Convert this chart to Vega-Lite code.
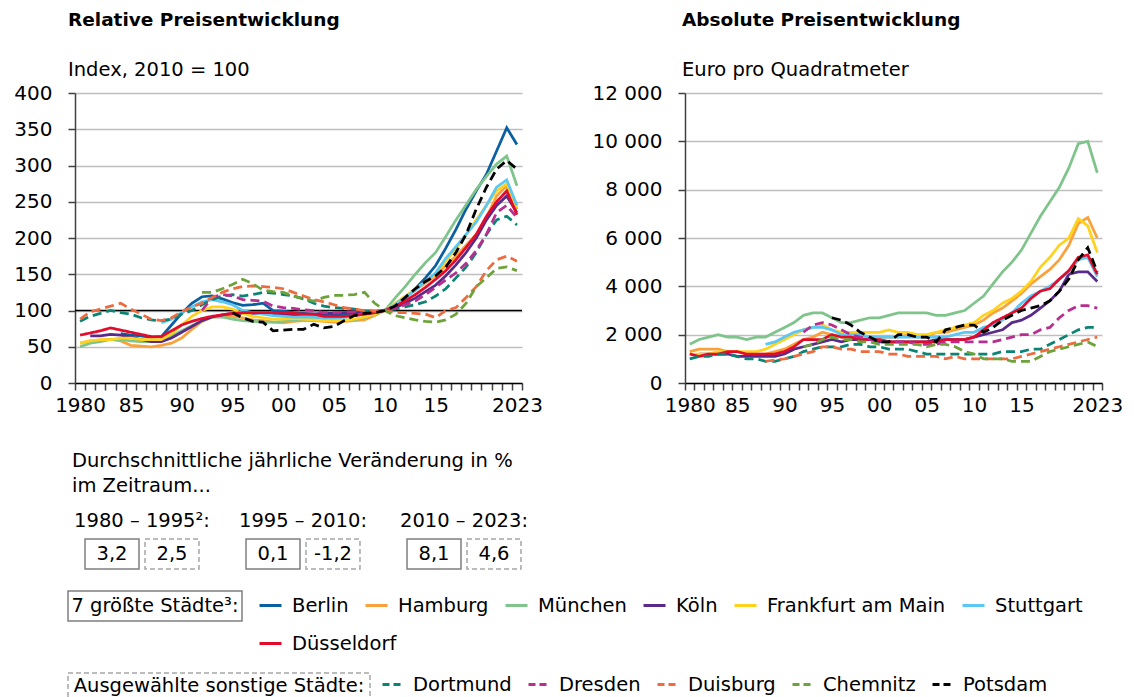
{
"$schema": "https://vega.github.io/schema/vega-lite/v6.json",
"padding": {"left": 13, "top": 11, "right": 5, "bottom": 0},
"config": {
  "font": "DejaVu Sans",
  "view": {"stroke": null},
  "locale": {"number": {"decimal": ",", "thousands": " ", "grouping": [3], "currency": ["", " €"], "minus": "-"}},
  "axis": {"labelFont": "DejaVu Sans", "labelColor": "black", "labelFontSize": 20},
  "title": {"font": "DejaVu Sans", "color": "black", "subtitleFont": "DejaVu Sans", "subtitleColor": "black", "anchor": "start", "frame": "group"},
  "text": {"font": "DejaVu Sans", "color": "black", "fontSize": 19.5},
  "legend": {"labelFont": "DejaVu Sans", "labelColor": "black", "labelFontSize": 19.5}
},
"datasets": {"preise": [
{"stadt":"Berlin","jahr":1984,"index":68},{"stadt":"Berlin","jahr":1985,"index":66},{"stadt":"Berlin","jahr":1986,"index":65},{"stadt":"Berlin","jahr":1987,"index":63},{"stadt":"Berlin","jahr":1988,"index":64},{"stadt":"Berlin","jahr":1989,"index":80},{"stadt":"Berlin","jahr":1990,"index":96},{"stadt":"Berlin","jahr":1991,"index":110},{"stadt":"Berlin","jahr":1992,"index":119},{"stadt":"Berlin","jahr":1993,"index":120},{"stadt":"Berlin","jahr":1994,"index":116},{"stadt":"Berlin","jahr":1995,"index":111},{"stadt":"Berlin","jahr":1996,"index":107},{"stadt":"Berlin","jahr":1997,"index":108},{"stadt":"Berlin","jahr":1998,"index":110},{"stadt":"Berlin","jahr":1999,"index":100},{"stadt":"Berlin","jahr":2000,"index":99},{"stadt":"Berlin","jahr":2001,"index":97},{"stadt":"Berlin","jahr":2002,"index":96},{"stadt":"Berlin","jahr":2003,"index":95},{"stadt":"Berlin","jahr":2004,"index":95},{"stadt":"Berlin","jahr":2005,"index":95},{"stadt":"Berlin","jahr":2006,"index":95},{"stadt":"Berlin","jahr":2007,"index":96},{"stadt":"Berlin","jahr":2008,"index":97},{"stadt":"Berlin","jahr":2009,"index":98},{"stadt":"Berlin","jahr":2010,"index":100},{"stadt":"Berlin","jahr":2011,"index":107},{"stadt":"Berlin","jahr":2012,"index":117},{"stadt":"Berlin","jahr":2013,"index":130},{"stadt":"Berlin","jahr":2014,"index":145},{"stadt":"Berlin","jahr":2015,"index":162},{"stadt":"Berlin","jahr":2016,"index":186},{"stadt":"Berlin","jahr":2017,"index":212},{"stadt":"Berlin","jahr":2018,"index":240},{"stadt":"Berlin","jahr":2019,"index":265},{"stadt":"Berlin","jahr":2020,"index":288},{"stadt":"Berlin","jahr":2021,"index":320},{"stadt":"Berlin","jahr":2022,"index":352},{"stadt":"Berlin","jahr":2023,"index":329},
{"stadt":"Hamburg","jahr":1980,"index":55,"euro":1300},{"stadt":"Hamburg","jahr":1981,"index":58,"euro":1400},{"stadt":"Hamburg","jahr":1982,"index":59,"euro":1400},{"stadt":"Hamburg","jahr":1983,"index":60,"euro":1400},{"stadt":"Hamburg","jahr":1984,"index":58,"euro":1300},{"stadt":"Hamburg","jahr":1985,"index":52,"euro":1300},{"stadt":"Hamburg","jahr":1986,"index":51,"euro":1200},{"stadt":"Hamburg","jahr":1987,"index":50,"euro":1200},{"stadt":"Hamburg","jahr":1988,"index":52,"euro":1200},{"stadt":"Hamburg","jahr":1989,"index":55,"euro":1300},{"stadt":"Hamburg","jahr":1990,"index":62,"euro":1400},{"stadt":"Hamburg","jahr":1991,"index":74,"euro":1600},{"stadt":"Hamburg","jahr":1992,"index":85,"euro":1800},{"stadt":"Hamburg","jahr":1993,"index":91,"euro":1900},{"stadt":"Hamburg","jahr":1994,"index":93,"euro":2100},{"stadt":"Hamburg","jahr":1995,"index":92,"euro":2000},{"stadt":"Hamburg","jahr":1996,"index":90,"euro":1900},{"stadt":"Hamburg","jahr":1997,"index":87,"euro":1900},{"stadt":"Hamburg","jahr":1998,"index":86,"euro":1900},{"stadt":"Hamburg","jahr":1999,"index":84,"euro":1900},{"stadt":"Hamburg","jahr":2000,"index":83,"euro":1900},{"stadt":"Hamburg","jahr":2001,"index":85,"euro":1900},{"stadt":"Hamburg","jahr":2002,"index":86,"euro":1900},{"stadt":"Hamburg","jahr":2003,"index":86,"euro":2000},{"stadt":"Hamburg","jahr":2004,"index":85,"euro":1900},{"stadt":"Hamburg","jahr":2005,"index":84,"euro":1900},{"stadt":"Hamburg","jahr":2006,"index":85,"euro":2100},{"stadt":"Hamburg","jahr":2007,"index":86,"euro":2100},{"stadt":"Hamburg","jahr":2008,"index":87,"euro":2200},{"stadt":"Hamburg","jahr":2009,"index":93,"euro":2300},{"stadt":"Hamburg","jahr":2010,"index":100,"euro":2400},{"stadt":"Hamburg","jahr":2011,"index":108,"euro":2600},{"stadt":"Hamburg","jahr":2012,"index":118,"euro":2900},{"stadt":"Hamburg","jahr":2013,"index":128,"euro":3100},{"stadt":"Hamburg","jahr":2014,"index":138,"euro":3400},{"stadt":"Hamburg","jahr":2015,"index":148,"euro":3700},{"stadt":"Hamburg","jahr":2016,"index":162,"euro":4100},{"stadt":"Hamburg","jahr":2017,"index":175,"euro":4400},{"stadt":"Hamburg","jahr":2018,"index":190,"euro":4700},{"stadt":"Hamburg","jahr":2019,"index":205,"euro":5100},{"stadt":"Hamburg","jahr":2020,"index":228,"euro":5700},{"stadt":"Hamburg","jahr":2021,"index":258,"euro":6600},{"stadt":"Hamburg","jahr":2022,"index":272,"euro":6850},{"stadt":"Hamburg","jahr":2023,"index":240,"euro":6000},
{"stadt":"München","jahr":1980,"index":50,"euro":1600},{"stadt":"München","jahr":1981,"index":55,"euro":1800},{"stadt":"München","jahr":1982,"index":57,"euro":1900},{"stadt":"München","jahr":1983,"index":60,"euro":2000},{"stadt":"München","jahr":1984,"index":60,"euro":1900},{"stadt":"München","jahr":1985,"index":58,"euro":1900},{"stadt":"München","jahr":1986,"index":57,"euro":1800},{"stadt":"München","jahr":1987,"index":57,"euro":1900},{"stadt":"München","jahr":1988,"index":58,"euro":1900},{"stadt":"München","jahr":1989,"index":65,"euro":2100},{"stadt":"München","jahr":1990,"index":72,"euro":2300},{"stadt":"München","jahr":1991,"index":79,"euro":2500},{"stadt":"München","jahr":1992,"index":86,"euro":2800},{"stadt":"München","jahr":1993,"index":91,"euro":2900},{"stadt":"München","jahr":1994,"index":91,"euro":2900},{"stadt":"München","jahr":1995,"index":88,"euro":2700},{"stadt":"München","jahr":1996,"index":86,"euro":2500},{"stadt":"München","jahr":1997,"index":85,"euro":2500},{"stadt":"München","jahr":1998,"index":84,"euro":2600},{"stadt":"München","jahr":1999,"index":84,"euro":2700},{"stadt":"München","jahr":2000,"index":85,"euro":2700},{"stadt":"München","jahr":2001,"index":87,"euro":2800},{"stadt":"München","jahr":2002,"index":88,"euro":2900},{"stadt":"München","jahr":2003,"index":88,"euro":2900},{"stadt":"München","jahr":2004,"index":88,"euro":2900},{"stadt":"München","jahr":2005,"index":88,"euro":2900},{"stadt":"München","jahr":2006,"index":87,"euro":2800},{"stadt":"München","jahr":2007,"index":87,"euro":2800},{"stadt":"München","jahr":2008,"index":90,"euro":2900},{"stadt":"München","jahr":2009,"index":95,"euro":3000},{"stadt":"München","jahr":2010,"index":100,"euro":3300},{"stadt":"München","jahr":2011,"index":117,"euro":3600},{"stadt":"München","jahr":2012,"index":133,"euro":4100},{"stadt":"München","jahr":2013,"index":150,"euro":4600},{"stadt":"München","jahr":2014,"index":166,"euro":5000},{"stadt":"München","jahr":2015,"index":180,"euro":5500},{"stadt":"München","jahr":2016,"index":202,"euro":6200},{"stadt":"München","jahr":2017,"index":225,"euro":6900},{"stadt":"München","jahr":2018,"index":246,"euro":7500},{"stadt":"München","jahr":2019,"index":267,"euro":8100},{"stadt":"München","jahr":2020,"index":285,"euro":8900},{"stadt":"München","jahr":2021,"index":302,"euro":9900},{"stadt":"München","jahr":2022,"index":313,"euro":10000},{"stadt":"München","jahr":2023,"index":272,"euro":8700},
{"stadt":"Köln","jahr":1981,"index":65,"euro":1200},{"stadt":"Köln","jahr":1982,"index":65,"euro":1200},{"stadt":"Köln","jahr":1983,"index":67,"euro":1200},{"stadt":"Köln","jahr":1984,"index":66,"euro":1200},{"stadt":"Köln","jahr":1985,"index":63,"euro":1100},{"stadt":"Köln","jahr":1986,"index":60,"euro":1100},{"stadt":"Köln","jahr":1987,"index":57,"euro":1100},{"stadt":"Köln","jahr":1988,"index":57,"euro":1100},{"stadt":"Köln","jahr":1989,"index":62,"euro":1100},{"stadt":"Köln","jahr":1990,"index":70,"euro":1200},{"stadt":"Köln","jahr":1991,"index":78,"euro":1400},{"stadt":"Köln","jahr":1992,"index":86,"euro":1500},{"stadt":"Köln","jahr":1993,"index":91,"euro":1600},{"stadt":"Köln","jahr":1994,"index":94,"euro":1700},{"stadt":"Köln","jahr":1995,"index":96,"euro":1800},{"stadt":"Köln","jahr":1996,"index":96,"euro":1700},{"stadt":"Köln","jahr":1997,"index":96,"euro":1800},{"stadt":"Köln","jahr":1998,"index":96,"euro":1800},{"stadt":"Köln","jahr":1999,"index":95,"euro":1800},{"stadt":"Köln","jahr":2000,"index":95,"euro":1700},{"stadt":"Köln","jahr":2001,"index":94,"euro":1700},{"stadt":"Köln","jahr":2002,"index":95,"euro":1700},{"stadt":"Köln","jahr":2003,"index":95,"euro":1700},{"stadt":"Köln","jahr":2004,"index":96,"euro":1700},{"stadt":"Köln","jahr":2005,"index":96,"euro":1700},{"stadt":"Köln","jahr":2006,"index":97,"euro":1800},{"stadt":"Köln","jahr":2007,"index":97,"euro":1800},{"stadt":"Köln","jahr":2008,"index":97,"euro":1800},{"stadt":"Köln","jahr":2009,"index":98,"euro":1800},{"stadt":"Köln","jahr":2010,"index":100,"euro":1900},{"stadt":"Köln","jahr":2011,"index":104,"euro":2000},{"stadt":"Köln","jahr":2012,"index":110,"euro":2100},{"stadt":"Köln","jahr":2013,"index":117,"euro":2200},{"stadt":"Köln","jahr":2014,"index":126,"euro":2500},{"stadt":"Köln","jahr":2015,"index":135,"euro":2600},{"stadt":"Köln","jahr":2016,"index":148,"euro":2800},{"stadt":"Köln","jahr":2017,"index":163,"euro":3100},{"stadt":"Köln","jahr":2018,"index":180,"euro":3400},{"stadt":"Köln","jahr":2019,"index":200,"euro":3800},{"stadt":"Köln","jahr":2020,"index":225,"euro":4500},{"stadt":"Köln","jahr":2021,"index":245,"euro":4600},{"stadt":"Köln","jahr":2022,"index":258,"euro":4600},{"stadt":"Köln","jahr":2023,"index":235,"euro":4200},
{"stadt":"Frankfurt am Main","jahr":1980,"index":55,"euro":1200},{"stadt":"Frankfurt am Main","jahr":1981,"index":58,"euro":1200},{"stadt":"Frankfurt am Main","jahr":1982,"index":60,"euro":1200},{"stadt":"Frankfurt am Main","jahr":1983,"index":60,"euro":1300},{"stadt":"Frankfurt am Main","jahr":1984,"index":62,"euro":1300},{"stadt":"Frankfurt am Main","jahr":1985,"index":62,"euro":1300},{"stadt":"Frankfurt am Main","jahr":1986,"index":60,"euro":1300},{"stadt":"Frankfurt am Main","jahr":1987,"index":60,"euro":1300},{"stadt":"Frankfurt am Main","jahr":1988,"index":60,"euro":1400},{"stadt":"Frankfurt am Main","jahr":1989,"index":68,"euro":1600},{"stadt":"Frankfurt am Main","jahr":1990,"index":80,"euro":1800},{"stadt":"Frankfurt am Main","jahr":1991,"index":92,"euro":2000},{"stadt":"Frankfurt am Main","jahr":1992,"index":100,"euro":2200},{"stadt":"Frankfurt am Main","jahr":1993,"index":105,"euro":2300},{"stadt":"Frankfurt am Main","jahr":1994,"index":105,"euro":2400},{"stadt":"Frankfurt am Main","jahr":1995,"index":102,"euro":2200},{"stadt":"Frankfurt am Main","jahr":1996,"index":96,"euro":2100},{"stadt":"Frankfurt am Main","jahr":1997,"index":92,"euro":2100},{"stadt":"Frankfurt am Main","jahr":1998,"index":90,"euro":2100},{"stadt":"Frankfurt am Main","jahr":1999,"index":88,"euro":2100},{"stadt":"Frankfurt am Main","jahr":2000,"index":88,"euro":2100},{"stadt":"Frankfurt am Main","jahr":2001,"index":89,"euro":2200},{"stadt":"Frankfurt am Main","jahr":2002,"index":88,"euro":2100},{"stadt":"Frankfurt am Main","jahr":2003,"index":87,"euro":2100},{"stadt":"Frankfurt am Main","jahr":2004,"index":86,"euro":2000},{"stadt":"Frankfurt am Main","jahr":2005,"index":86,"euro":2000},{"stadt":"Frankfurt am Main","jahr":2006,"index":86,"euro":2100},{"stadt":"Frankfurt am Main","jahr":2007,"index":88,"euro":2200},{"stadt":"Frankfurt am Main","jahr":2008,"index":91,"euro":2300},{"stadt":"Frankfurt am Main","jahr":2009,"index":95,"euro":2400},{"stadt":"Frankfurt am Main","jahr":2010,"index":100,"euro":2500},{"stadt":"Frankfurt am Main","jahr":2011,"index":110,"euro":2800},{"stadt":"Frankfurt am Main","jahr":2012,"index":120,"euro":3000},{"stadt":"Frankfurt am Main","jahr":2013,"index":130,"euro":3300},{"stadt":"Frankfurt am Main","jahr":2014,"index":140,"euro":3500},{"stadt":"Frankfurt am Main","jahr":2015,"index":150,"euro":3800},{"stadt":"Frankfurt am Main","jahr":2016,"index":168,"euro":4200},{"stadt":"Frankfurt am Main","jahr":2017,"index":185,"euro":4800},{"stadt":"Frankfurt am Main","jahr":2018,"index":205,"euro":5200},{"stadt":"Frankfurt am Main","jahr":2019,"index":225,"euro":5700},{"stadt":"Frankfurt am Main","jahr":2020,"index":245,"euro":6000},{"stadt":"Frankfurt am Main","jahr":2021,"index":265,"euro":6800},{"stadt":"Frankfurt am Main","jahr":2022,"index":275,"euro":6500},{"stadt":"Frankfurt am Main","jahr":2023,"index":242,"euro":5400},
{"stadt":"Stuttgart","jahr":1988,"index":83,"euro":1600},{"stadt":"Stuttgart","jahr":1989,"index":88,"euro":1700},{"stadt":"Stuttgart","jahr":1990,"index":97,"euro":1900},{"stadt":"Stuttgart","jahr":1991,"index":105,"euro":2100},{"stadt":"Stuttgart","jahr":1992,"index":112,"euro":2200},{"stadt":"Stuttgart","jahr":1993,"index":115,"euro":2300},{"stadt":"Stuttgart","jahr":1994,"index":112,"euro":2300},{"stadt":"Stuttgart","jahr":1995,"index":108,"euro":2200},{"stadt":"Stuttgart","jahr":1996,"index":100,"euro":2000},{"stadt":"Stuttgart","jahr":1997,"index":97,"euro":2000},{"stadt":"Stuttgart","jahr":1998,"index":95,"euro":2000},{"stadt":"Stuttgart","jahr":1999,"index":93,"euro":1900},{"stadt":"Stuttgart","jahr":2000,"index":92,"euro":1900},{"stadt":"Stuttgart","jahr":2001,"index":91,"euro":1900},{"stadt":"Stuttgart","jahr":2002,"index":91,"euro":1900},{"stadt":"Stuttgart","jahr":2003,"index":91,"euro":1900},{"stadt":"Stuttgart","jahr":2004,"index":90,"euro":1900},{"stadt":"Stuttgart","jahr":2005,"index":90,"euro":1900},{"stadt":"Stuttgart","jahr":2006,"index":91,"euro":1900},{"stadt":"Stuttgart","jahr":2007,"index":93,"euro":1900},{"stadt":"Stuttgart","jahr":2008,"index":95,"euro":2000},{"stadt":"Stuttgart","jahr":2009,"index":97,"euro":2100},{"stadt":"Stuttgart","jahr":2010,"index":100,"euro":2100},{"stadt":"Stuttgart","jahr":2011,"index":108,"euro":2300},{"stadt":"Stuttgart","jahr":2012,"index":118,"euro":2400},{"stadt":"Stuttgart","jahr":2013,"index":128,"euro":2600},{"stadt":"Stuttgart","jahr":2014,"index":140,"euro":2900},{"stadt":"Stuttgart","jahr":2015,"index":152,"euro":3300},{"stadt":"Stuttgart","jahr":2016,"index":172,"euro":3600},{"stadt":"Stuttgart","jahr":2017,"index":188,"euro":3800},{"stadt":"Stuttgart","jahr":2018,"index":205,"euro":4000},{"stadt":"Stuttgart","jahr":2019,"index":222,"euro":4300},{"stadt":"Stuttgart","jahr":2020,"index":245,"euro":4600},{"stadt":"Stuttgart","jahr":2021,"index":270,"euro":5100},{"stadt":"Stuttgart","jahr":2022,"index":280,"euro":5200},{"stadt":"Stuttgart","jahr":2023,"index":245,"euro":4400},
{"stadt":"Düsseldorf","jahr":1980,"index":66,"euro":1200},{"stadt":"Düsseldorf","jahr":1981,"index":69,"euro":1100},{"stadt":"Düsseldorf","jahr":1982,"index":72,"euro":1200},{"stadt":"Düsseldorf","jahr":1983,"index":76,"euro":1200},{"stadt":"Düsseldorf","jahr":1984,"index":73,"euro":1300},{"stadt":"Düsseldorf","jahr":1985,"index":70,"euro":1300},{"stadt":"Düsseldorf","jahr":1986,"index":67,"euro":1200},{"stadt":"Düsseldorf","jahr":1987,"index":64,"euro":1200},{"stadt":"Düsseldorf","jahr":1988,"index":64,"euro":1200},{"stadt":"Düsseldorf","jahr":1989,"index":72,"euro":1200},{"stadt":"Düsseldorf","jahr":1990,"index":80,"euro":1300},{"stadt":"Düsseldorf","jahr":1991,"index":85,"euro":1500},{"stadt":"Düsseldorf","jahr":1992,"index":89,"euro":1800},{"stadt":"Düsseldorf","jahr":1993,"index":92,"euro":1800},{"stadt":"Düsseldorf","jahr":1994,"index":94,"euro":1800},{"stadt":"Düsseldorf","jahr":1995,"index":96,"euro":2000},{"stadt":"Düsseldorf","jahr":1996,"index":97,"euro":1900},{"stadt":"Düsseldorf","jahr":1997,"index":97,"euro":1900},{"stadt":"Düsseldorf","jahr":1998,"index":97,"euro":1800},{"stadt":"Düsseldorf","jahr":1999,"index":97,"euro":1800},{"stadt":"Düsseldorf","jahr":2000,"index":97,"euro":1800},{"stadt":"Düsseldorf","jahr":2001,"index":96,"euro":1700},{"stadt":"Düsseldorf","jahr":2002,"index":95,"euro":1700},{"stadt":"Düsseldorf","jahr":2003,"index":95,"euro":1700},{"stadt":"Düsseldorf","jahr":2004,"index":92,"euro":1700},{"stadt":"Düsseldorf","jahr":2005,"index":92,"euro":1700},{"stadt":"Düsseldorf","jahr":2006,"index":92,"euro":1700},{"stadt":"Düsseldorf","jahr":2007,"index":93,"euro":1800},{"stadt":"Düsseldorf","jahr":2008,"index":95,"euro":1800},{"stadt":"Düsseldorf","jahr":2009,"index":97,"euro":1800},{"stadt":"Düsseldorf","jahr":2010,"index":100,"euro":1900},{"stadt":"Düsseldorf","jahr":2011,"index":106,"euro":2200},{"stadt":"Düsseldorf","jahr":2012,"index":113,"euro":2500},{"stadt":"Düsseldorf","jahr":2013,"index":122,"euro":2700},{"stadt":"Düsseldorf","jahr":2014,"index":132,"euro":2900},{"stadt":"Düsseldorf","jahr":2015,"index":143,"euro":3100},{"stadt":"Düsseldorf","jahr":2016,"index":155,"euro":3500},{"stadt":"Düsseldorf","jahr":2017,"index":170,"euro":3800},{"stadt":"Düsseldorf","jahr":2018,"index":187,"euro":3900},{"stadt":"Düsseldorf","jahr":2019,"index":205,"euro":4300},{"stadt":"Düsseldorf","jahr":2020,"index":230,"euro":4650},{"stadt":"Düsseldorf","jahr":2021,"index":250,"euro":5200},{"stadt":"Düsseldorf","jahr":2022,"index":265,"euro":5300},{"stadt":"Düsseldorf","jahr":2023,"index":232,"euro":4500},
{"stadt":"Dortmund","jahr":1980,"index":85,"euro":1000},{"stadt":"Dortmund","jahr":1981,"index":92,"euro":1100},{"stadt":"Dortmund","jahr":1982,"index":96,"euro":1100},{"stadt":"Dortmund","jahr":1983,"index":100,"euro":1200},{"stadt":"Dortmund","jahr":1984,"index":97,"euro":1200},{"stadt":"Dortmund","jahr":1985,"index":95,"euro":1100},{"stadt":"Dortmund","jahr":1986,"index":90,"euro":1000},{"stadt":"Dortmund","jahr":1987,"index":87,"euro":1000},{"stadt":"Dortmund","jahr":1988,"index":86,"euro":900},{"stadt":"Dortmund","jahr":1989,"index":88,"euro":900},{"stadt":"Dortmund","jahr":1990,"index":95,"euro":1000},{"stadt":"Dortmund","jahr":1991,"index":100,"euro":1100},{"stadt":"Dortmund","jahr":1992,"index":108,"euro":1300},{"stadt":"Dortmund","jahr":1993,"index":115,"euro":1400},{"stadt":"Dortmund","jahr":1994,"index":120,"euro":1500},{"stadt":"Dortmund","jahr":1995,"index":122,"euro":1500},{"stadt":"Dortmund","jahr":1996,"index":120,"euro":1500},{"stadt":"Dortmund","jahr":1997,"index":122,"euro":1600},{"stadt":"Dortmund","jahr":1998,"index":125,"euro":1600},{"stadt":"Dortmund","jahr":1999,"index":124,"euro":1500},{"stadt":"Dortmund","jahr":2000,"index":122,"euro":1500},{"stadt":"Dortmund","jahr":2001,"index":120,"euro":1400},{"stadt":"Dortmund","jahr":2002,"index":116,"euro":1400},{"stadt":"Dortmund","jahr":2003,"index":110,"euro":1400},{"stadt":"Dortmund","jahr":2004,"index":106,"euro":1300},{"stadt":"Dortmund","jahr":2005,"index":104,"euro":1200},{"stadt":"Dortmund","jahr":2006,"index":103,"euro":1200},{"stadt":"Dortmund","jahr":2007,"index":102,"euro":1200},{"stadt":"Dortmund","jahr":2008,"index":100,"euro":1200},{"stadt":"Dortmund","jahr":2009,"index":99,"euro":1200},{"stadt":"Dortmund","jahr":2010,"index":100,"euro":1200},{"stadt":"Dortmund","jahr":2011,"index":102,"euro":1200},{"stadt":"Dortmund","jahr":2012,"index":105,"euro":1200},{"stadt":"Dortmund","jahr":2013,"index":108,"euro":1300},{"stadt":"Dortmund","jahr":2014,"index":112,"euro":1300},{"stadt":"Dortmund","jahr":2015,"index":120,"euro":1300},{"stadt":"Dortmund","jahr":2016,"index":130,"euro":1400},{"stadt":"Dortmund","jahr":2017,"index":145,"euro":1400},{"stadt":"Dortmund","jahr":2018,"index":160,"euro":1600},{"stadt":"Dortmund","jahr":2019,"index":180,"euro":1800},{"stadt":"Dortmund","jahr":2020,"index":205,"euro":2000},{"stadt":"Dortmund","jahr":2021,"index":225,"euro":2200},{"stadt":"Dortmund","jahr":2022,"index":230,"euro":2300},{"stadt":"Dortmund","jahr":2023,"index":218,"euro":2300},
{"stadt":"Dresden","jahr":1992,"index":100,"euro":2100},{"stadt":"Dresden","jahr":1993,"index":118,"euro":2400},{"stadt":"Dresden","jahr":1994,"index":122,"euro":2500},{"stadt":"Dresden","jahr":1995,"index":120,"euro":2400},{"stadt":"Dresden","jahr":1996,"index":115,"euro":2200},{"stadt":"Dresden","jahr":1997,"index":114,"euro":2000},{"stadt":"Dresden","jahr":1998,"index":113,"euro":1900},{"stadt":"Dresden","jahr":1999,"index":106,"euro":1800},{"stadt":"Dresden","jahr":2000,"index":104,"euro":1800},{"stadt":"Dresden","jahr":2001,"index":103,"euro":1700},{"stadt":"Dresden","jahr":2002,"index":101,"euro":1700},{"stadt":"Dresden","jahr":2003,"index":100,"euro":1700},{"stadt":"Dresden","jahr":2004,"index":97,"euro":1600},{"stadt":"Dresden","jahr":2005,"index":97,"euro":1600},{"stadt":"Dresden","jahr":2006,"index":98,"euro":1600},{"stadt":"Dresden","jahr":2007,"index":98,"euro":1700},{"stadt":"Dresden","jahr":2008,"index":97,"euro":1700},{"stadt":"Dresden","jahr":2009,"index":98,"euro":1700},{"stadt":"Dresden","jahr":2010,"index":100,"euro":1700},{"stadt":"Dresden","jahr":2011,"index":103,"euro":1700},{"stadt":"Dresden","jahr":2012,"index":108,"euro":1700},{"stadt":"Dresden","jahr":2013,"index":113,"euro":1800},{"stadt":"Dresden","jahr":2014,"index":122,"euro":1900},{"stadt":"Dresden","jahr":2015,"index":132,"euro":2000},{"stadt":"Dresden","jahr":2016,"index":142,"euro":2000},{"stadt":"Dresden","jahr":2017,"index":152,"euro":2200},{"stadt":"Dresden","jahr":2018,"index":165,"euro":2300},{"stadt":"Dresden","jahr":2019,"index":183,"euro":2700},{"stadt":"Dresden","jahr":2020,"index":205,"euro":3000},{"stadt":"Dresden","jahr":2021,"index":235,"euro":3200},{"stadt":"Dresden","jahr":2022,"index":245,"euro":3200},{"stadt":"Dresden","jahr":2023,"index":228,"euro":3100},
{"stadt":"Duisburg","jahr":1980,"index":88},{"stadt":"Duisburg","jahr":1981,"index":98},{"stadt":"Duisburg","jahr":1982,"index":102},{"stadt":"Duisburg","jahr":1983,"index":106},{"stadt":"Duisburg","jahr":1984,"index":110},{"stadt":"Duisburg","jahr":1985,"index":102},{"stadt":"Duisburg","jahr":1986,"index":95},{"stadt":"Duisburg","jahr":1987,"index":88},{"stadt":"Duisburg","jahr":1988,"index":86,"euro":900},{"stadt":"Duisburg","jahr":1989,"index":90,"euro":950},{"stadt":"Duisburg","jahr":1990,"index":98,"euro":1000},{"stadt":"Duisburg","jahr":1991,"index":105,"euro":1100},{"stadt":"Duisburg","jahr":1992,"index":110,"euro":1200},{"stadt":"Duisburg","jahr":1993,"index":118,"euro":1300},{"stadt":"Duisburg","jahr":1994,"index":125,"euro":1500},{"stadt":"Duisburg","jahr":1995,"index":130,"euro":1500},{"stadt":"Duisburg","jahr":1996,"index":133,"euro":1400},{"stadt":"Duisburg","jahr":1997,"index":134,"euro":1400},{"stadt":"Duisburg","jahr":1998,"index":133,"euro":1300},{"stadt":"Duisburg","jahr":1999,"index":132,"euro":1300},{"stadt":"Duisburg","jahr":2000,"index":130,"euro":1300},{"stadt":"Duisburg","jahr":2001,"index":125,"euro":1200},{"stadt":"Duisburg","jahr":2002,"index":120,"euro":1200},{"stadt":"Duisburg","jahr":2003,"index":115,"euro":1100},{"stadt":"Duisburg","jahr":2004,"index":112,"euro":1100},{"stadt":"Duisburg","jahr":2005,"index":108,"euro":1100},{"stadt":"Duisburg","jahr":2006,"index":104,"euro":1100},{"stadt":"Duisburg","jahr":2007,"index":102,"euro":1000},{"stadt":"Duisburg","jahr":2008,"index":100,"euro":1100},{"stadt":"Duisburg","jahr":2009,"index":99,"euro":1000},{"stadt":"Duisburg","jahr":2010,"index":100,"euro":1000},{"stadt":"Duisburg","jahr":2011,"index":97,"euro":1000},{"stadt":"Duisburg","jahr":2012,"index":97,"euro":1000},{"stadt":"Duisburg","jahr":2013,"index":96,"euro":1000},{"stadt":"Duisburg","jahr":2014,"index":95,"euro":1000},{"stadt":"Duisburg","jahr":2015,"index":90,"euro":1100},{"stadt":"Duisburg","jahr":2016,"index":100,"euro":1200},{"stadt":"Duisburg","jahr":2017,"index":104,"euro":1300},{"stadt":"Duisburg","jahr":2018,"index":118,"euro":1400},{"stadt":"Duisburg","jahr":2019,"index":133,"euro":1500},{"stadt":"Duisburg","jahr":2020,"index":155,"euro":1600},{"stadt":"Duisburg","jahr":2021,"index":170,"euro":1700},{"stadt":"Duisburg","jahr":2022,"index":175,"euro":1800},{"stadt":"Duisburg","jahr":2023,"index":168,"euro":1900},
{"stadt":"Chemnitz","jahr":1992,"index":125,"euro":1500},{"stadt":"Chemnitz","jahr":1993,"index":125,"euro":1600},{"stadt":"Chemnitz","jahr":1994,"index":130,"euro":1800},{"stadt":"Chemnitz","jahr":1995,"index":136,"euro":1900},{"stadt":"Chemnitz","jahr":1996,"index":143,"euro":1800},{"stadt":"Chemnitz","jahr":1997,"index":137,"euro":1800},{"stadt":"Chemnitz","jahr":1998,"index":128,"euro":1700},{"stadt":"Chemnitz","jahr":1999,"index":126,"euro":1700},{"stadt":"Chemnitz","jahr":2000,"index":125,"euro":1600},{"stadt":"Chemnitz","jahr":2001,"index":120,"euro":1600},{"stadt":"Chemnitz","jahr":2002,"index":116,"euro":1600},{"stadt":"Chemnitz","jahr":2003,"index":113,"euro":1600},{"stadt":"Chemnitz","jahr":2004,"index":118,"euro":1600},{"stadt":"Chemnitz","jahr":2005,"index":121,"euro":1500},{"stadt":"Chemnitz","jahr":2006,"index":121,"euro":1600},{"stadt":"Chemnitz","jahr":2007,"index":122,"euro":1600},{"stadt":"Chemnitz","jahr":2008,"index":125,"euro":1500},{"stadt":"Chemnitz","jahr":2009,"index":110,"euro":1300},{"stadt":"Chemnitz","jahr":2010,"index":100,"euro":1200},{"stadt":"Chemnitz","jahr":2011,"index":93,"euro":1000},{"stadt":"Chemnitz","jahr":2012,"index":90,"euro":1000},{"stadt":"Chemnitz","jahr":2013,"index":87,"euro":1000},{"stadt":"Chemnitz","jahr":2014,"index":85,"euro":900},{"stadt":"Chemnitz","jahr":2015,"index":84,"euro":900},{"stadt":"Chemnitz","jahr":2016,"index":87,"euro":900},{"stadt":"Chemnitz","jahr":2017,"index":95,"euro":1100},{"stadt":"Chemnitz","jahr":2018,"index":110,"euro":1300},{"stadt":"Chemnitz","jahr":2019,"index":133,"euro":1400},{"stadt":"Chemnitz","jahr":2020,"index":145,"euro":1500},{"stadt":"Chemnitz","jahr":2021,"index":158,"euro":1600},{"stadt":"Chemnitz","jahr":2022,"index":160,"euro":1700},{"stadt":"Chemnitz","jahr":2023,"index":155,"euro":1500},
{"stadt":"Potsdam","jahr":1995,"index":97,"euro":2700},{"stadt":"Potsdam","jahr":1996,"index":90,"euro":2600},{"stadt":"Potsdam","jahr":1997,"index":85,"euro":2400},{"stadt":"Potsdam","jahr":1998,"index":84,"euro":2100},{"stadt":"Potsdam","jahr":1999,"index":72,"euro":1900},{"stadt":"Potsdam","jahr":2000,"index":73,"euro":1700},{"stadt":"Potsdam","jahr":2001,"index":74,"euro":1700},{"stadt":"Potsdam","jahr":2002,"index":74,"euro":2000},{"stadt":"Potsdam","jahr":2003,"index":81,"euro":2000},{"stadt":"Potsdam","jahr":2004,"index":76,"euro":1900},{"stadt":"Potsdam","jahr":2005,"index":78,"euro":1900},{"stadt":"Potsdam","jahr":2006,"index":86,"euro":1700},{"stadt":"Potsdam","jahr":2007,"index":93,"euro":2200},{"stadt":"Potsdam","jahr":2008,"index":96,"euro":2300},{"stadt":"Potsdam","jahr":2009,"index":97,"euro":2400},{"stadt":"Potsdam","jahr":2010,"index":100,"euro":2400},{"stadt":"Potsdam","jahr":2011,"index":106,"euro":2100},{"stadt":"Potsdam","jahr":2012,"index":118,"euro":2300},{"stadt":"Potsdam","jahr":2013,"index":130,"euro":2600},{"stadt":"Potsdam","jahr":2014,"index":140,"euro":2800},{"stadt":"Potsdam","jahr":2015,"index":148,"euro":3000},{"stadt":"Potsdam","jahr":2016,"index":160,"euro":3100},{"stadt":"Potsdam","jahr":2017,"index":180,"euro":3200},{"stadt":"Potsdam","jahr":2018,"index":205,"euro":3400},{"stadt":"Potsdam","jahr":2019,"index":240,"euro":3800},{"stadt":"Potsdam","jahr":2020,"index":270,"euro":4300},{"stadt":"Potsdam","jahr":2021,"index":295,"euro":5100},{"stadt":"Potsdam","jahr":2022,"index":307,"euro":5600},{"stadt":"Potsdam","jahr":2023,"index":295,"euro":4600}
]},
"resolve": {"scale": {"color": "shared", "stroke": "shared", "strokeDash": "shared"}, "legend": {"color": "shared", "stroke": "shared", "strokeDash": "shared"}},
"spacing": 35,
"vconcat": [
 {
  "spacing": 49,
  "resolve": {"scale": {"color": "shared", "stroke": "shared", "strokeDash": "shared"}},
  "hconcat": [
   {
    "width": 447, "height": 290,
    "title": {"text": "Relative Preisentwicklung", "subtitle": "Index, 2010 = 100", "dx": -7, "fontSize": 18.5, "fontWeight": "bold", "subtitleFontSize": 19.5, "subtitlePadding": 31, "offset": 4},
    "encoding": {
      "y": {"field": "index", "type": "quantitative", "scale": {"domain": [0, 400], "nice": false},
            "axis": {"title": null, "values": [0,50,100,150,200,250,300,350,400], "format": "d", "grid": true, "gridColor": "#BFBFBF", "gridWidth": 1.5, "domainColor": "#404040", "domainWidth": 1.5, "tickSize": 7, "tickColor": "#404040", "tickWidth": 1.5, "labelPadding": 16}}
    },
    "layer": [
     {"data": {"values": [{"index": 100}]}, "mark": {"type": "rule", "color": "black", "strokeWidth": 1.5}},
     {"data": {"name": "preise"},
      "transform": [{"filter": "isValid(datum.index)"}, {"filter": {"field": "stadt", "oneOf": ["Berlin","Hamburg","München","Köln","Frankfurt am Main","Stuttgart"]}}],
      "mark": {"type": "line", "strokeWidth": 2.75},
      "encoding": {
        "x": {"field": "jahr", "type": "ordinal", "scale": {"type": "band", "paddingInner": 0, "paddingOuter": 0},
              "axis": {"title": null, "labelAngle": 0, "labelOverlap": false, "labelPadding": 5, "tickBand": "extent", "tickSize": 7, "tickColor": "#404040", "tickWidth": 1.5, "domainColor": "black", "domainWidth": 1.5, "grid": false,
                       "labelExpr": "indexof([1980,1985,1990,1995,2000,2005,2010,2015,2023], datum.value) >= 0 ? ((datum.value == 1980 || datum.value == 2023) ? datum.label : substring(datum.label, 2)) : ''"}},
        "color": {"field": "stadt", "type": "nominal",
                  "scale": {"domain": ["Berlin","Hamburg","München","Köln","Frankfurt am Main","Stuttgart"], "range": ["#0a5fa0","#f9a23b","#7fc48b","#5a2a8a","#ffd21e","#5ac8f2"]},
                  "legend": {"title": null, "orient": "none", "legendX": 183, "legendY": 500, "direction": "horizontal", "columns": 6, "symbolType": "stroke", "symbolSize": 484, "symbolStrokeWidth": 3, "labelOffset": 9, "columnPadding": 10, "labelLimit": 300, "padding": 0}}
      }},
     {"data": {"name": "preise"},
      "transform": [{"filter": "isValid(datum.index)"}, {"filter": {"field": "stadt", "equal": "Düsseldorf"}}],
      "mark": {"type": "line", "strokeWidth": 2.75, "color": "#e30b2c"},
      "encoding": {
        "x": {"field": "jahr", "type": "ordinal"},
        "strokeDash": {"field": "stadt", "type": "nominal",
                       "scale": {"domain": ["Düsseldorf"], "range": [[1, 0]]},
                       "legend": {"title": null, "orient": "none", "legendX": 183, "legendY": 538, "symbolType": "stroke", "symbolSize": 484, "symbolStrokeWidth": 3, "symbolStrokeColor": "#e30b2c", "labelOffset": 9, "labelLimit": 300, "padding": 0}}
      }},
     {"data": {"name": "preise"},
      "transform": [{"filter": "isValid(datum.index)"}, {"filter": {"field": "stadt", "oneOf": ["Dortmund","Dresden","Duisburg","Chemnitz","Potsdam"]}}],
      "mark": {"type": "line", "strokeWidth": 2.75, "strokeDash": [9, 5]},
      "encoding": {
        "x": {"field": "jahr", "type": "ordinal"},
        "stroke": {"field": "stadt", "type": "nominal",
                   "scale": {"domain": ["Dortmund","Dresden","Duisburg","Chemnitz","Potsdam"], "range": ["#0b8474","#b82e8f","#ec6b3f","#6ea23a","#000000"]},
                   "legend": {"title": null, "orient": "none", "legendX": 306, "legendY": 580, "direction": "horizontal", "columns": 5, "symbolType": "stroke", "symbolSize": 400, "symbolStrokeWidth": 3, "symbolDash": [7, 4], "labelOffset": 9, "columnPadding": 10, "labelLimit": 300, "padding": 0}}
      }}
    ]
   },
   {
    "width": 417, "height": 290,
    "title": {"text": "Absolute Preisentwicklung", "subtitle": "Euro pro Quadratmeter", "dx": -3, "fontSize": 18.5, "fontWeight": "bold", "subtitleFontSize": 19.5, "subtitlePadding": 31, "offset": 4},
    "data": {"name": "preise"},
    "transform": [{"filter": "isValid(datum.euro)"}],
    "encoding": {
      "x": {"field": "jahr", "type": "ordinal", "scale": {"type": "band", "paddingInner": 0, "paddingOuter": 0},
            "axis": {"title": null, "labelAngle": 0, "labelOverlap": false, "labelPadding": 5, "tickBand": "extent", "tickSize": 7, "tickColor": "#404040", "tickWidth": 1.5, "domainColor": "black", "domainWidth": 1.5, "grid": false,
                     "labelExpr": "indexof([1980,1985,1990,1995,2000,2005,2010,2015,2023], datum.value) >= 0 ? ((datum.value == 1980 || datum.value == 2023) ? datum.label : substring(datum.label, 2)) : ''"}},
      "y": {"field": "euro", "type": "quantitative", "scale": {"domain": [0, 12000], "nice": false},
            "axis": {"title": null, "values": [0,2000,4000,6000,8000,10000,12000], "format": ",d", "grid": true, "gridColor": "#BFBFBF", "gridWidth": 1.5, "domainColor": "#404040", "domainWidth": 1.5, "tickSize": 7, "tickColor": "#404040", "tickWidth": 1.5, "labelPadding": 16}}
    },
    "layer": [
     {"transform": [{"filter": {"field": "stadt", "oneOf": ["Berlin","Hamburg","München","Köln","Frankfurt am Main","Stuttgart"]}}],
      "mark": {"type": "line", "strokeWidth": 2.75},
      "encoding": {
        "color": {"field": "stadt", "type": "nominal",
                  "scale": {"domain": ["Berlin","Hamburg","München","Köln","Frankfurt am Main","Stuttgart"], "range": ["#0a5fa0","#f9a23b","#7fc48b","#5a2a8a","#ffd21e","#5ac8f2"]},
                  "legend": {"title": null, "orient": "none", "legendX": 183, "legendY": 500, "direction": "horizontal", "columns": 6, "symbolType": "stroke", "symbolSize": 484, "symbolStrokeWidth": 3, "labelOffset": 9, "columnPadding": 10, "labelLimit": 300, "padding": 0}}
      }},
     {"transform": [{"filter": {"field": "stadt", "equal": "Düsseldorf"}}],
      "mark": {"type": "line", "strokeWidth": 2.75, "color": "#e30b2c"},
      "encoding": {
        "strokeDash": {"field": "stadt", "type": "nominal",
                       "scale": {"domain": ["Düsseldorf"], "range": [[1, 0]]},
                       "legend": {"title": null, "orient": "none", "legendX": 183, "legendY": 538, "symbolType": "stroke", "symbolSize": 484, "symbolStrokeWidth": 3, "symbolStrokeColor": "#e30b2c", "labelOffset": 9, "labelLimit": 300, "padding": 0}}
      }},
     {"transform": [{"filter": {"field": "stadt", "oneOf": ["Dortmund","Dresden","Duisburg","Chemnitz","Potsdam"]}}],
      "mark": {"type": "line", "strokeWidth": 2.75, "strokeDash": [9, 5]},
      "encoding": {
        "stroke": {"field": "stadt", "type": "nominal",
                   "scale": {"domain": ["Dortmund","Dresden","Duisburg","Chemnitz","Potsdam"], "range": ["#0b8474","#b82e8f","#ec6b3f","#6ea23a","#000000"]},
                   "legend": {"title": null, "orient": "none", "legendX": 306, "legendY": 580, "direction": "horizontal", "columns": 5, "symbolType": "stroke", "symbolSize": 400, "symbolStrokeWidth": 3, "symbolDash": [7, 4], "labelOffset": 9, "columnPadding": 10, "labelLimit": 300, "padding": 0}}
      }}
    ]
   }
  ]
 },
 {
  "spacing": 20,
  "vconcat": [
   {
    "width": 480, "height": 30,
    "title": {"text": ["Durchschnittliche jährliche Veränderung in %", "im Zeitraum..."], "dx": -3, "fontSize": 19.5, "fontWeight": "normal", "lineHeight": 25, "offset": 14},
    "data": {"values": [
      {"zeitraum": "1980 – 1995²:", "gruppe": "7 größte Städte", "veraenderung": 3.2},
      {"zeitraum": "1980 – 1995²:", "gruppe": "Ausgewählte sonstige Städte", "veraenderung": 2.5},
      {"zeitraum": "1995 – 2010:", "gruppe": "7 größte Städte", "veraenderung": 0.1},
      {"zeitraum": "1995 – 2010:", "gruppe": "Ausgewählte sonstige Städte", "veraenderung": -1.2},
      {"zeitraum": "2010 – 2023:", "gruppe": "7 größte Städte", "veraenderung": 8.1},
      {"zeitraum": "2010 – 2023:", "gruppe": "Ausgewählte sonstige Städte", "veraenderung": 4.6}
    ]},
    "encoding": {
      "x": {"field": "zeitraum", "type": "nominal", "sort": null, "scale": {"range": [-13.5, 469.5], "paddingInner": 0, "paddingOuter": 0},
            "axis": {"orient": "top", "title": null, "domain": false, "ticks": false, "labelAngle": 0, "labelFontSize": 19.5, "labelPadding": 9}},
      "xOffset": {"field": "gruppe", "type": "nominal", "sort": null, "scale": {"domain": ["7 größte Städte", "Ausgewählte sonstige Städte"], "paddingInner": 0.1, "paddingOuter": 0.392}}
    },
    "layer": [
     {"transform": [{"filter": {"field": "gruppe", "equal": "7 größte Städte"}}],
      "mark": {"type": "rect", "filled": false, "stroke": "#7f7f7f", "strokeWidth": 1.5}},
     {"transform": [{"filter": {"field": "gruppe", "equal": "Ausgewählte sonstige Städte"}}],
      "mark": {"type": "rect", "filled": false, "stroke": "#a6a6a6", "strokeWidth": 1.5, "strokeDash": [5, 3]}},
     {"mark": {"type": "text", "fontSize": 19.5},
      "encoding": {"text": {"field": "veraenderung", "type": "quantitative", "format": ".1f"}}}
    ]
   },
   {
    "spacing": 50,
    "vconcat": [
     {"width": 160, "height": 30,
      "data": {"values": [{"gruppe": "7 größte Städte³:"}]},
      "encoding": {"x": {"field": "gruppe", "type": "nominal", "scale": {"range": [-7, 167], "paddingInner": 0, "paddingOuter": 0}, "axis": null}},
      "layer": [
        {"mark": {"type": "rect", "filled": false, "stroke": "#7f7f7f", "strokeWidth": 1.5}},
        {"mark": {"type": "text", "fontSize": 19.5}, "encoding": {"text": {"field": "gruppe"}}}
      ]},
     {"width": 290, "height": 26,
      "data": {"values": [{"gruppe": "Ausgewählte sonstige Städte:"}]},
      "encoding": {"x": {"field": "gruppe", "type": "nominal", "scale": {"range": [-7, 295], "paddingInner": 0, "paddingOuter": 0}, "axis": null}},
      "layer": [
        {"mark": {"type": "rect", "filled": false, "stroke": "#a6a6a6", "strokeWidth": 1.5, "strokeDash": [5, 3]}},
        {"mark": {"type": "text", "fontSize": 19.5}, "encoding": {"text": {"field": "gruppe"}}}
      ]}
    ]
   }
  ]
 }
]
}
